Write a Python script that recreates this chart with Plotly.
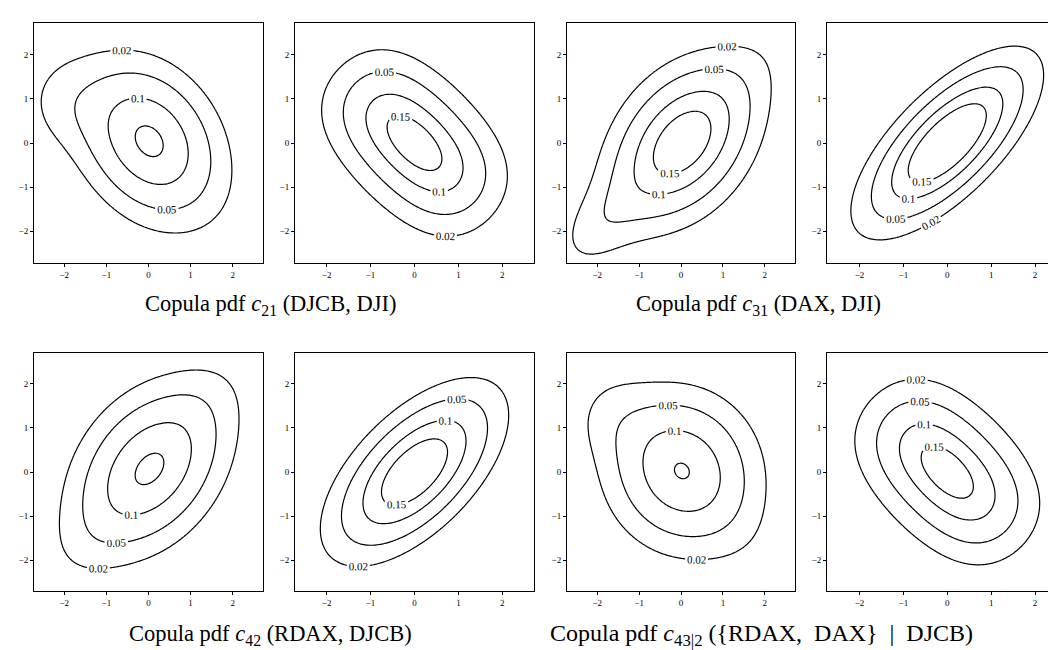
import math
import numpy as np
import plotly.graph_objects as go

# ---------------- data ----------------
LEVELS = [0.02, 0.05, 0.1, 0.15]
TICKS = [-2, -1, 0, 1, 2]

CAPTIONS = [
    "Copula pdf <i>c</i><sub>21</sub> (DJCB, DJI)",
    "Copula pdf <i>c</i><sub>31</sub> (DAX, DJI)",
    "Copula pdf <i>c</i><sub>42</sub> (RDAX, DJCB)",
    "Copula pdf <i>c</i><sub>43|2</sub> ({RDAX,\u00a0\u00a0DAX}\u00a0\u00a0|\u00a0\u00a0DJCB)",
]

# fitted (parametric) copulas, right panel of each pair
FIT_FAMILY = ["frank", "gauss", "gauss", "frank"]
FIT_PARAM = [-2.6, 0.70, 0.60, -2.4]

# empirical (smoothed) copula densities, left panel of each pair:
# gaussian mixture components estimated from the picture
EMP_W = [
    [0.79, 0.17, 0.05],
    [0.84, 0.30, 0.04],
    [0.83, 0.20, 0.015, 0.015],
    [0.82, 0.16, 0.03],
]
EMP_MX = [
    [0.05, -0.30, -1.95],
    [0.05, -0.10, -1.90],
    [0.02, 0.00, 1.20, -1.30],
    [0.03, 0.00, -1.70],
]
EMP_MY = [
    [0.06, 0.00, 0.90],
    [0.02, -0.10, -1.80],
    [0.08, 0.00, 1.60, -1.50],
    [0.03, 0.00, 1.20],
]
EMP_SX = [
    [0.93, 1.35, 0.65],
    [0.95, 1.35, 0.60],
    [1.00, 1.35, 0.60, 0.60],
    [1.00, 1.30, 0.60],
]
EMP_SY = [
    [1.00, 1.22, 0.65],
    [1.00, 1.35, 0.60],
    [1.05, 1.35, 0.60, 0.60],
    [1.00, 1.30, 0.60],
]
EMP_RHO = [
    [-0.25, -0.60, 0.0],
    [0.30, 0.80, 0.50],
    [0.30, 0.75, 0.30, 0.30],
    [-0.05, -0.72, 0.0],
]

# ---------------- helpers ----------------
_erf = np.vectorize(math.erf)


def Phi(z):
    return 0.5 * (1.0 + _erf(z / math.sqrt(2.0)))


def phi(z):
    return np.exp(-0.5 * z * z) / math.sqrt(2 * math.pi)


def gauss2(X, Y, mx, my, sx, sy, r):
    dx = (X - mx) / sx
    dy = (Y - my) / sy
    q = (dx * dx - 2 * r * dx * dy + dy * dy) / (1 - r * r)
    return np.exp(-0.5 * q) / (2 * math.pi * sx * sy * math.sqrt(1 - r * r))


def frank_meta(X, Y, th):
    u = Phi(X)
    v = Phi(Y)
    a = 1 - math.exp(-th)
    num = th * a * np.exp(-th * (u + v))
    den = (a - (1 - np.exp(-th * u)) * (1 - np.exp(-th * v))) ** 2
    return num / den * phi(X) * phi(Y)


g = np.linspace(-2.8, 2.8, 181)
X, Y = np.meshgrid(g, g)


def fitted_z(k):
    if FIT_FAMILY[k] == "gauss":
        return gauss2(X, Y, 0, 0, 1, 1, FIT_PARAM[k])
    return frank_meta(X, Y, FIT_PARAM[k])


def emp_z(k):
    z = np.zeros_like(X)
    for w, mx, my, sx, sy, r in zip(EMP_W[k], EMP_MX[k], EMP_MY[k],
                                    EMP_SX[k], EMP_SY[k], EMP_RHO[k]):
        z += w * gauss2(X, Y, mx, my, sx, sy, r)
    return z


# ---------------- layout geometry (pixels) ----------------
W, H = 1056, 650
COLS = [(26, 255), (287, 526), (559, 787), (819, 1056)]
ROWS = [(15, 255), (345, 583)]
XR = [[-2.72, 2.72], [-2.72, 2.72], [-2.72, 2.72], [-2.74, 2.66]]
YR = [[-2.72, 2.72], [-2.70, 2.70]]

SERIF = "Liberation Serif"
fig = go.Figure()
layout = dict(
    width=W, height=H, margin=dict(l=0, r=0, t=0, b=0),
    paper_bgcolor="white", plot_bgcolor="white", showlegend=False,
)

panel = 0
for ri, (y0, y1) in enumerate(ROWS):
    for ci, (x0, x1) in enumerate(COLS):
        panel += 1
        pair = ri * 2 + ci // 2
        z = emp_z(pair) if ci % 2 == 0 else fitted_z(pair)
        xa = "x" if panel == 1 else f"x{panel}"
        ya = "y" if panel == 1 else f"y{panel}"
        for L in LEVELS:
            fig.add_trace(go.Contour(
                x=g, y=g, z=z, xaxis=xa, yaxis=ya,
                autocontour=False,
                contours=dict(start=L, end=L, size=1, coloring="none",
                              showlabels=True,
                              labelfont=dict(family=SERIF, size=11, color="black")),
                line=dict(color="black", width=1.2, smoothing=1),
                showscale=False, hoverinfo="skip",
            ))
        common = dict(
            showgrid=False, zeroline=False, showline=True, linecolor="black",
            linewidth=1, ticks="outside", ticklen=3, tickwidth=1,
            tickcolor="black", tickvals=TICKS,
            tickfont=dict(family=SERIF, size=9, color="black"),
            fixedrange=True,
        )
        sfx = "" if panel == 1 else str(panel)
        layout["xaxis" + sfx] = dict(
            common, domain=[x0 / W, x1 / W], range=XR[ci],
            anchor=ya, mirror=True)
        layout["yaxis" + sfx] = dict(
            common, domain=[1 - y1 / H, 1 - y0 / H], range=YR[ri],
            anchor=xa, mirror=(ci != 3))

fig.update_layout(**layout)

CAP_POS = [(262, 297, "center", 22.5), (750, 297, "center", 22.5),
           (262, 627, "center", 22.5), (540, 627, "left", 24)]
for text, (cx, cy, anc, fs) in zip(CAPTIONS, CAP_POS):
    fig.add_annotation(
        text=text, x=cx / W, y=1 - cy / H, xref="paper", yref="paper",
        xanchor=anc, yanchor="middle", showarrow=False,
        font=dict(family=SERIF, size=fs, color="black"),
    )

fig.write_html("out.html")
